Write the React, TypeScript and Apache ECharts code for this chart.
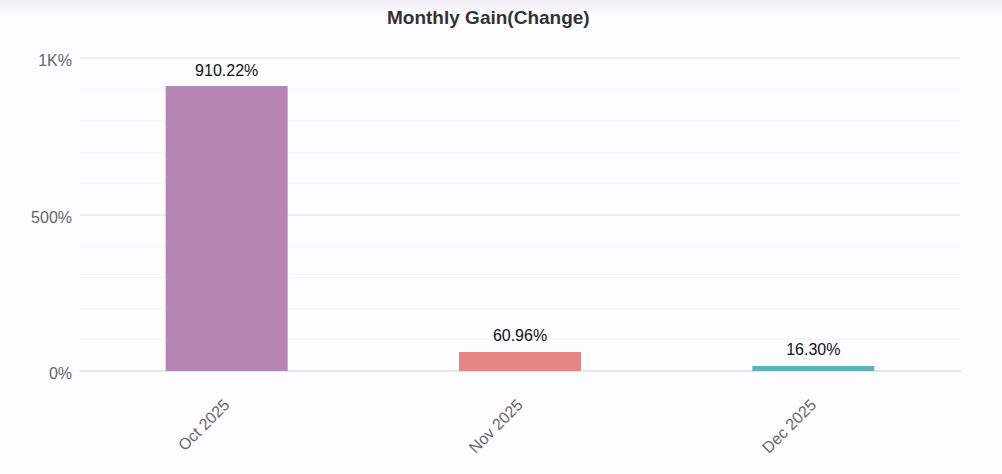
import React, { useEffect, useRef } from "react";
import * as echarts from "echarts";

const categories = ["Oct 2025", "Nov 2025", "Dec 2025"];
const gains = [910.22, 60.96, 16.3];
const barColors = ["#b685b4", "#e38885", "#62b2b5"];
const title = "Monthly Gain(Change)";

const FONT = "Liberation Sans, Arial, sans-serif";

export default function App() {
  const ref = useRef<HTMLDivElement>(null);
  useEffect(() => {
    if (!ref.current) return;
    const chart = echarts.init(ref.current, undefined, { renderer: "svg" });
    chart.setOption({
      animation: false,
      backgroundColor: "#fdfcfe",
      graphic: [
        {
          type: "rect",
          left: 0,
          top: 0,
          shape: { width: 1002, height: 16 },
          style: {
            fill: new echarts.graphic.LinearGradient(0, 0, 0, 1, [
              { offset: 0, color: "#efedf1" },
              { offset: 1, color: "#fdfcfe" },
            ]),
          },
          silent: true,
          z: -1,
        },
      ],
      title: {
        text: title,
        left: 382,
        top: 3,
        textStyle: {
          fontFamily: FONT,
          fontSize: 19,
          fontWeight: "bold",
          color: "#333333",
        },
      },
      grid: { left: 80, right: 42, top: 58, bottom: 103 },
      xAxis: {
        type: "category",
        data: categories,
        axisLine: { show: true, lineStyle: { color: "#e6e4e8", width: 2 } },
        axisTick: { show: false },
        axisLabel: {
          rotate: 45,
          margin: 31,
          color: "#666666",
          fontSize: 16,
          fontFamily: FONT,
        },
      },
      yAxis: {
        type: "value",
        min: 0,
        max: 1000,
        interval: 500,
        axisLine: { show: false },
        axisTick: { show: false },
        axisLabel: {
          color: "#666666",
          fontSize: 16,
          margin: 8,
          verticalAlign: "top",
          lineHeight: 5,
          fontFamily: FONT,
          formatter: (v: number) => (v >= 1000 ? v / 1000 + "K%" : v + "%"),
        },
        splitLine: { show: true, lineStyle: { color: "#ebe9ed", width: 1.5 } },
        minorTick: { show: false, splitNumber: 5 },
        minorSplitLine: { show: true, lineStyle: { color: "#f6f4f7", width: 1 } },
      },
      series: [
        {
          type: "bar",
          barWidth: 122,
          data: gains.map((v, i) => ({ value: v, itemStyle: { color: barColors[i] } })),
          label: {
            show: true,
            position: "top",
            distance: 8,
            color: "#111111",
            fontSize: 16,
            fontFamily: FONT,
            formatter: (p: any) => p.value.toFixed(2) + "%",
          },
        },
      ],
    });
    return () => chart.dispose();
  }, []);
  return (
    <div
      ref={ref}
      style={{ position: "fixed", left: 0, top: 0, width: 1002, height: 474 }}
    />
  );
}
